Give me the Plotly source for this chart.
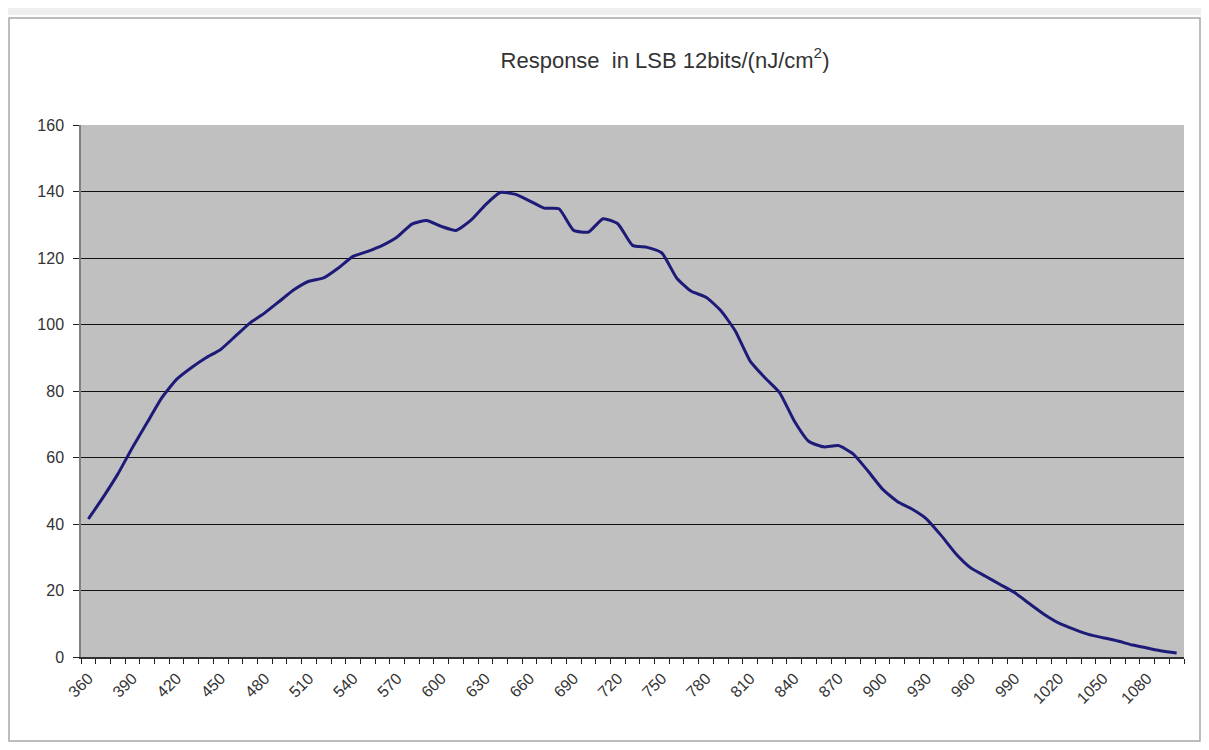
import plotly.graph_objects as go

wavelengths = list(range(360, 1101, 10))
response = [
    41.5, 48, 55, 63, 70.5, 78, 83.5, 87, 90, 92.5,
    96.5, 100.5, 103.5, 107, 110.5, 113, 114, 117, 120.5, 122,
    123.8, 126.3, 130.2, 131.3, 129.5, 128.3, 131.3, 136, 139.7, 139.2,
    137.2, 135, 134.8, 128.3, 127.8, 131.8, 130.3, 123.8, 123.2, 121.5,
    114, 110, 108.2, 104.2, 98, 89, 84, 79.5, 71, 64.8,
    63.2, 63.6, 61.1, 56, 50.5, 46.8, 44.5, 41.5, 36.5, 31,
    26.8, 24.3, 21.8, 19.3, 16, 12.8, 10.2, 8.4, 6.8, 5.8,
    4.8, 3.6, 2.7, 1.8, 1.2,
]
label_vals = list(range(360, 1081, 30))
label_text = [str(v) for v in label_vals]
y_ticks = list(range(0, 161, 20))
title_text = "Response  in LSB 12bits/(nJ/cm<sup>2</sup>)"

# page body has an 8px margin; figure sized so the page fits the window
W, H = 1193, 734
L, T = 73, 117
R = W - 1176
B = H - 649
pw = W - L - R
ph = H - T - B

def px_x(p):
    return (p - L) / pw

def px_y(p):
    return (H - B - p) / ph

fig = go.Figure()
fig.add_trace(go.Scatter(
    x=wavelengths, y=response, mode="lines",
    line=dict(color="#1E1B78", width=3, shape="spline", smoothing=0.5),
    hoverinfo="skip", showlegend=False,
))

font_family = "Liberation Sans, Arial, sans-serif"

fig.update_layout(
    width=W, height=H,
    margin=dict(l=L, r=R, t=T, b=B, autoexpand=False),
    paper_bgcolor="white",
    plot_bgcolor="#C0C0C0",
    font=dict(family=font_family, size=15, color="#333333"),
    title=dict(text=title_text, x=657 / W, y=1 - 52 / H, xref="container",
               yref="container", xanchor="center", yanchor="middle",
               font=dict(family=font_family, size=22, color="#333333")),
    xaxis=dict(
        range=[355, 1105], tickmode="array", tickvals=label_vals, ticktext=label_text,
        tickangle=-45, ticks="", showgrid=False, zeroline=False,
        showline=True, linecolor="#303030", linewidth=1.5,
        tickfont=dict(size=16, color="#333333"), ticklabelstandoff=4,
        minor=dict(ticks="outside", tick0=355, dtick=10, ticklen=5,
                   tickcolor="#202020", tickwidth=1.2, showgrid=False),
    ),
    yaxis=dict(
        range=[0, 160], tickmode="array", tickvals=y_ticks,
        ticks="outside", ticklen=6, tickcolor="#202020", tickwidth=1.2,
        showgrid=True, gridcolor="#111111", gridwidth=1.3,
        zeroline=False, showline=True, linecolor="#808080", linewidth=1.5,
        tickfont=dict(size=16, color="#333333"), ticklabelstandoff=6,
    ),
    shapes=[
        dict(type="rect", xref="paper", yref="paper",
             x0=px_x(0), x1=px_x(W), y0=px_y(0), y1=px_y(7),
             fillcolor="#EFEFEF", line=dict(width=0), layer="below"),
        dict(type="rect", xref="paper", yref="paper",
             x0=px_x(1), x1=px_x(W - 1), y0=px_y(10), y1=px_y(H - 1),
             fillcolor="rgba(0,0,0,0)", line=dict(color="#A8A8A8", width=1.5),
             layer="above"),
    ],
)

fig.write_html("out.html")
